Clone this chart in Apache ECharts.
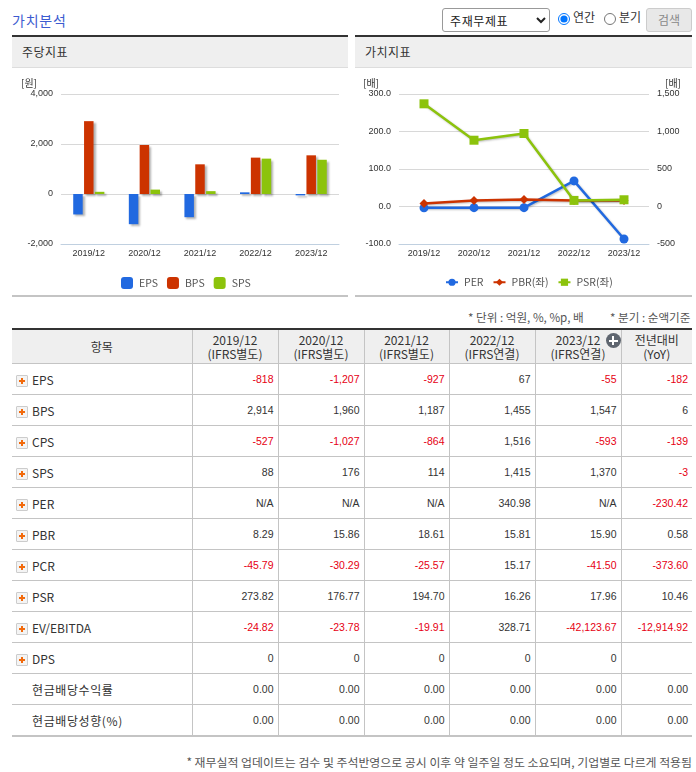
<!DOCTYPE html>
<html>
<head>
<meta charset="utf-8">
<title>가치분석</title>
<script src="https://cdn.jsdelivr.net/npm/echarts@6/dist/echarts.min.js"></script>
<style>
    html, body { margin: 0; padding: 0; background: #fff; }
    body { width: 696px; height: 772px; position: relative; overflow: hidden;
        font-family: "Noto Sans CJK KR", "Noto Sans", sans-serif; color: #333; font-size: 12px; }
    .abs { position: absolute; white-space: nowrap; }
    .title { left: 12px; top: 10px; font-size: 14px; line-height: 20px; color: #3c5bd0; letter-spacing: .8px; }
    select { position: absolute; left: 442px; top: 8px; width: 108px; height: 24px; font: 12px "Noto Sans CJK KR"; color: #222;
        background: #fff; border: 1px solid #999; border-radius: 3px; padding-left: 3px; letter-spacing: .6px; }
    input[type=radio] { position: absolute; margin: 0; width: 12px; height: 12px; top: 13px; }
    .btn { left: 646px; top: 8px; width: 44px; height: 22px; border: 1px solid #ccc; border-radius: 3px; background: #e8e8e8;
        color: #888; text-align: center; line-height: 22px; }
    .panel { position: absolute; top: 35px; height: 258px; border-top: 2px solid #333; border-bottom: 2px solid #c4c4c4; }
    .panel .head { height: 30px; line-height: 29px; background: #efefef; border-bottom: 1px solid #ddd; padding-left: 10px; letter-spacing: .5px; }
    .chart { position: absolute; top: 32px; left: 0; height: 225px; }
    .note { font-size: 11.6px; color: #555; line-height: 14px; }
    table { position: absolute; left: 12px; top: 328px; width: 680px; table-layout: fixed; border-collapse: collapse;
        border-top: 2px solid #333; border-bottom: 2px solid #c4c4c4; }
    th { background: #efefef; font-weight: normal; height: 33px; padding: 0; font-size: 12px; line-height: 14px; position: relative;
        border-left: 1px solid #c4c4c4; border-bottom: 1px solid #c4c4c4; }
    td { height: 30px; padding: 0 4px 0 0; text-align: right; font-family: "Liberation Sans", sans-serif; font-size: 10.5px;
        border-left: 1px solid #c4c4c4; border-bottom: 1px solid #c4c4c4; }
    tr:last-child td { border-bottom: none; }
    th:first-child, td:first-child { border-left: none; }
    td:first-child { text-align: left; font-family: "Noto Sans CJK KR", sans-serif; font-size: 12px; padding: 0 0 0 20px; position: relative; }
    td.kr { letter-spacing: .6px; }
    td.neg { color: #e60012; }
    .plus { position: absolute; left: 4px; top: 11px; width: 10px; height: 10px; border: 1px solid #ccc; border-radius: 1px; background: #f4f4f4; }
    .plus:before { content: ""; position: absolute; left: 2px; top: 4px; width: 6px; height: 2px; background: #f26a0c; }
    .plus:after { content: ""; position: absolute; left: 4px; top: 2px; width: 2px; height: 6px; background: #f26a0c; }
    .more { position: absolute; left: 70px; top: 3px; width: 15px; height: 15px; border-radius: 50%; background: #5f6670; }
    .more:before { content: ""; position: absolute; left: 3px; top: 6.5px; width: 9px; height: 2px; background: #fff; }
    .more:after { content: ""; position: absolute; left: 6.5px; top: 3px; width: 2px; height: 9px; background: #fff; }
</style>
</head>
<body>
<div class="abs title">가치분석</div>
<select><option>주재무제표</option></select>
<input type="radio" name="term" style="left:558px" checked><div class="abs" style="left:573px;top:8px">연간</div>
<input type="radio" name="term" style="left:604px"><div class="abs" style="left:619px;top:8px">분기</div>
<div class="abs btn">검색</div>

<div class="panel" style="left:12px;width:336px">
    <div class="head">주당지표</div>
    <div class="chart" id="perShare" style="width:336px"></div>
</div>
<div class="panel" style="left:355px;width:337px">
    <div class="head">가치지표</div>
    <div class="chart" id="valuation" style="width:337px"></div>
</div>

<div class="abs note" style="left:468px;top:310px">* 단위 : 억원, %, %p, 배</div>
<div class="abs note" style="left:610px;top:310px">* 분기 : 순액기준</div>
<table id="tbl"></table>
<div class="abs note" style="right:4px;top:755px;font-size:11.9px">* 재무실적 업데이트는 검수 및 주석반영으로 공시 이후 약 일주일 정도 소요되며, 기업별로 다르게 적용됨</div>

<script>
var periods = ['2019/12', '2020/12', '2021/12', '2022/12', '2023/12'];

// 주당지표 chart
var eps = [-818, -1207, -927, 67, -55];
var bps = [2914, 1960, 1187, 1455, 1547];
var sps = [88, 176, 114, 1415, 1370];

// 가치지표 chart (PER, N/A years sit just under zero)
var per = [-18, -15, -15, 341, -434];
var pbr = [8.29, 15.86, 18.61, 15.81, 15.90];
var psr = [273.82, 176.77, 194.70, 16.26, 17.96];

// table
var tableHead = ['항목', '2019/12<br>(IFRS별도)', '2020/12<br>(IFRS별도)', '2021/12<br>(IFRS별도)', '2022/12<br>(IFRS연결)', '2023/12<br>(IFRS연결)', '전년대비<br>(YoY)'];
var colWidths = [180, 86, 86, 85, 86, 86, 71];
var tableRows = [
    ['EPS', '-818', '-1,207', '-927', '67', '-55', '-182'],
    ['BPS', '2,914', '1,960', '1,187', '1,455', '1,547', '6'],
    ['CPS', '-527', '-1,027', '-864', '1,516', '-593', '-139'],
    ['SPS', '88', '176', '114', '1,415', '1,370', '-3'],
    ['PER', 'N/A', 'N/A', 'N/A', '340.98', 'N/A', '-230.42'],
    ['PBR', '8.29', '15.86', '18.61', '15.81', '15.90', '0.58'],
    ['PCR', '-45.79', '-30.29', '-25.57', '15.17', '-41.50', '-373.60'],
    ['PSR', '273.82', '176.77', '194.70', '16.26', '17.96', '10.46'],
    ['EV/EBITDA', '-24.82', '-23.78', '-19.91', '328.71', '-42,123.67', '-12,914.92'],
    ['DPS', '0', '0', '0', '0', '0', ''],
    ['현금배당수익률', '0.00', '0.00', '0.00', '0.00', '0.00', '0.00'],
    ['현금배당성향(%)', '0.00', '0.00', '0.00', '0.00', '0.00', '0.00']
];
var noPlus = ['현금배당수익률', '현금배당성향(%)'];

var BLUE = '#2169e0', RED = '#cc3300', GREEN = '#8cc30c';
var FONT = '"Liberation Sans", Arial, sans-serif';
var KR = '"Noto Sans CJK KR", sans-serif';

var html = '<colgroup>';
colWidths.forEach(function (w) { html += '<col style="width:' + w + 'px">'; });
html += '</colgroup><tr>';
tableHead.forEach(function (h, i) {
    html += '<th>' + h + (i == 5 ? '<span class="more"></span>' : '') + '</th>';
});
html += '</tr>';
tableRows.forEach(function (row) {
    html += '<tr>';
    row.forEach(function (v, i) {
        if (i == 0) {
            var isPlain = noPlus.indexOf(v) >= 0;
            html += '<td' + (isPlain ? ' class="kr"' : '') + '>' + (isPlain ? '' : '<span class="plus"></span>') + v + '</td>';
        } else {
            html += '<td' + (v.charAt(0) == '-' ? ' class="neg"' : '') + '>' + v + '</td>';
        }
    });
    html += '</tr>';
});
document.getElementById('tbl').innerHTML = html;

function commas(v) { return String(v).replace(/\B(?=(\d{3})+$)/g, ','); }

function xAxisOpt() {
    return {
        type: 'category',
        data: periods,
        axisLine: { onZero: false, lineStyle: { color: '#c0d0e0' } },
        axisTick: { length: 4, lineStyle: { color: '#c0d0e0' } },
        axisLabel: { fontFamily: FONT, fontSize: 9, color: '#333', margin: 5 }
    };
}

function yAxisOpt(min, max, step, unitName, fmt, showGrid, align, namePad) {
    return {
        type: 'value',
        min: min, max: max, interval: step,
        name: unitName,
        nameGap: 6,
        nameTextStyle: { fontFamily: KR, fontSize: 10, color: '#333', align: align, padding: namePad },
        axisLine: { show: false },
        axisTick: { show: false },
        splitLine: { show: showGrid, lineStyle: { color: '#d8d8d8' } },
        axisLabel: { fontFamily: FONT, fontSize: 9, color: '#333', margin: 8, formatter: fmt }
    };
}

function barSeries(name, values, color) {
    return {
        name: name, type: 'bar', data: values, barWidth: 9.5, barGap: '14%',
        itemStyle: { color: color, shadowColor: 'rgba(0,0,0,0.3)', shadowBlur: 2, shadowOffsetX: 2, shadowOffsetY: 2 }
    };
}

function lineSeries(name, values, color, symbol, size, axisIndex) {
    return {
        name: name, type: 'line', data: values, yAxisIndex: axisIndex,
        symbol: symbol, symbolSize: size,
        itemStyle: { color: color },
        lineStyle: { color: color, width: 2.5, shadowColor: 'rgba(0,0,0,0.25)', shadowBlur: 2, shadowOffsetX: 1, shadowOffsetY: 1 }
    };
}

var perShareChart = echarts.init(document.getElementById('perShare'));
perShareChart.setOption({
    animation: false,
    grid: { left: 49, right: 9, top: 25, height: 150 },
    legend: {
        left: 104, top: 203, itemWidth: 12, itemHeight: 12, itemGap: 9,
        icon: 'roundRect',
        textStyle: { fontFamily: KR, fontSize: 10.5, color: '#555', padding: [0, 0, 0, 1] }
    },
    xAxis: xAxisOpt(),
    yAxis: yAxisOpt(-2000, 4000, 2000, '[원]', commas, true, 'right', [0, 24, 0, 0]),
    series: [barSeries('EPS', eps, BLUE), barSeries('BPS', bps, RED), barSeries('SPS', sps, GREEN)]
});

var valuationChart = echarts.init(document.getElementById('valuation'));
valuationChart.setOption({
    animation: false,
    grid: { left: 44, right: 43, top: 25, height: 150 },
    legend: {
        left: 85, top: 203, itemWidth: 12, itemHeight: 9, itemGap: 9,
        textStyle: { fontFamily: KR, fontSize: 10.5, color: '#555', padding: [0, 0, 0, 1] },
        data: ['PER', 'PBR(좌)', 'PSR(좌)']
    },
    xAxis: xAxisOpt(),
    yAxis: [
        yAxisOpt(-100, 300, 100, '[배]', function (v) { return v.toFixed(1); }, true, 'right', [0, 20, 0, 0]),
        yAxisOpt(-500, 1500, 500, '[배]', commas, false, 'left', [0, 0, 0, 16])
    ],
    series: [
        lineSeries('PER', per, BLUE, 'circle', 9, 1),
        lineSeries('PBR(좌)', pbr, RED, 'diamond', 9, 0),
        lineSeries('PSR(좌)', psr, GREEN, 'rect', 9, 0)
    ]
});
</script>
</body>
</html>
